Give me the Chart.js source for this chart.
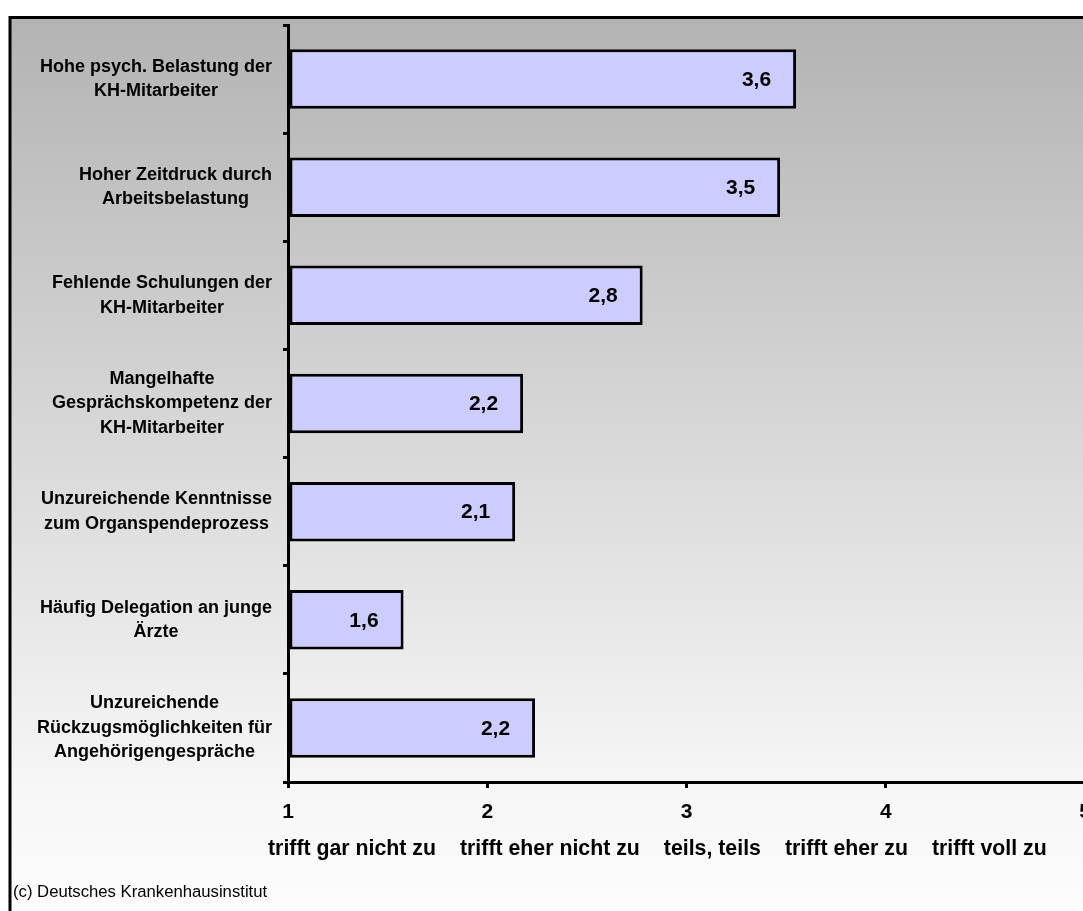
<!DOCTYPE html>
<html><head><meta charset="utf-8">
<script src="https://cdn.jsdelivr.net/npm/chart.js@4.4.1/dist/chart.umd.min.js"></script>
<style>
html,body{margin:0;padding:0;background:#fff;overflow:hidden;}
#wrap{width:1083px;height:911px;overflow:hidden;position:relative;}
canvas{display:block;}
</style></head><body>
<div id="wrap"><canvas id="c" width="1100" height="930" style="width:1100px;height:930px"></canvas></div>
<script>
const categories = [
  ['Hohe psych. Belastung der', 'KH-Mitarbeiter'],
  ['Hoher Zeitdruck durch', 'Arbeitsbelastung'],
  ['Fehlende Schulungen der', 'KH-Mitarbeiter'],
  ['Mangelhafte', 'Gesprächskompetenz der', 'KH-Mitarbeiter'],
  ['Unzureichende Kenntnisse', 'zum Organspendeprozess'],
  ['Häufig Delegation an junge', 'Ärzte'],
  ['Unzureichende', 'Rückzugsmöglichkeiten für', 'Angehörigengespräche']
];
const values = [3.55, 3.47, 2.78, 2.18, 2.14, 1.58, 2.24];
const valueLabels = ['3,6', '3,5', '2,8', '2,2', '2,1', '1,6', '2,2'];
const xMin = 1;
const xMax = 5;
const scaleTexts = ['trifft gar nicht zu', 'trifft eher nicht zu', 'teils, teils', 'trifft eher zu', 'trifft voll zu'];
const sourceText = '(c) Deutsches Krankenhausinstitut';

const FONT = '"Liberation Sans", Arial, Helvetica, sans-serif';

const backgroundPlugin = {
  id: 'bg',
  beforeDraw(chart) {
    const ctx = chart.ctx;
    ctx.save();
    ctx.fillStyle = '#ffffff';
    ctx.fillRect(0, 0, chart.width, chart.height);
    const g = ctx.createLinearGradient(0, 17, 0, 911);
    g.addColorStop(0, '#b3b3b3');
    g.addColorStop(0.87, '#f7f7f7');
    g.addColorStop(1, '#fcfcfc');
    ctx.fillStyle = g;
    ctx.fillRect(10, 17, chart.width, chart.height);
    ctx.strokeStyle = '#000';
    ctx.lineWidth = 3;
    ctx.beginPath();
    ctx.moveTo(10, chart.height + 5);
    ctx.lineTo(10, 17.5);
    ctx.lineTo(chart.width + 5, 17.5);
    ctx.stroke();
    ctx.restore();
  }
};

const textPlugin = {
  id: 'texts',
  afterDatasetsDraw(chart) {
    const ctx = chart.ctx;
    const meta = chart.getDatasetMeta(0);
    ctx.save();
    ctx.fillStyle = '#000';
    ctx.font = 'bold 21px ' + FONT;
    ctx.textAlign = 'right';
    ctx.textBaseline = 'middle';
    meta.data.forEach((el, i) => {
      ctx.fillText(valueLabels[i], el.x - 25, el.y + 1);
    });
    ctx.restore();
  },
  afterDraw(chart) {
    const ctx = chart.ctx;
    const ys = chart.scales.y;
    const area = chart.chartArea;
    ctx.save();
    ctx.fillStyle = '#000';
    // category labels: block right-aligned, lines centered within block
    ctx.font = 'bold 18px ' + FONT;
    ctx.textAlign = 'center';
    ctx.textBaseline = 'middle';
    const lh = 24.5;
    categories.forEach((lines, i) => {
      const y = ys.getPixelForValue(i);
      let w = 0;
      lines.forEach(l => { w = Math.max(w, ctx.measureText(l).width); });
      const cx = area.left - 16 - w / 2;
      lines.forEach((l, j) => {
        ctx.fillText(l, cx, y + (j - (lines.length - 1) / 2) * lh);
      });
    });
    // scale description row
    ctx.font = 'bold 21.3px ' + FONT;
    ctx.textAlign = 'left';
    ctx.textBaseline = 'alphabetic';
    let x = area.left - 20;
    scaleTexts.forEach(t => {
      ctx.fillText(t, x, area.bottom + 73);
      x += ctx.measureText(t).width + 24;
    });
    // source
    ctx.font = '16.7px ' + FONT;
    ctx.fillText(sourceText, 13, 897);
    ctx.restore();
  }
};

function resetPadding(s) {
  s.paddingLeft = 0; s.paddingRight = 0; s.paddingTop = 0; s.paddingBottom = 0;
}

new Chart(document.getElementById('c'), {
  type: 'bar',
  data: {
    labels: categories,
    datasets: [{
      data: values,
      backgroundColor: '#ccccff',
      borderColor: '#000000',
      borderWidth: 3,
      borderSkipped: false,
      base: xMin,
      barPercentage: 0.55,
      categoryPercentage: 1
    }]
  },
  options: {
    indexAxis: 'y',
    responsive: false,
    animation: false,
    devicePixelRatio: 1,
    layout: { padding: { left: 0, top: 25, right: 15, bottom: 108 } },
    plugins: { legend: { display: false }, tooltip: { enabled: false } },
    scales: {
      x: {
        type: 'linear',
        min: xMin,
        max: xMax,
        ticks: { stepSize: 1, color: '#000', padding: 12, font: { family: FONT, size: 21, weight: 'bold' } },
        grid: { drawOnChartArea: false, color: '#000', lineWidth: 3, tickLength: 6 },
        border: { color: '#000', width: 3 },
        afterFit(s) { s.height = 40; resetPadding(s); }
      },
      y: {
        type: 'category',
        offset: true,
        ticks: { display: false },
        grid: { offset: true, drawOnChartArea: false, color: '#000', lineWidth: 3, tickLength: 5 },
        border: { color: '#000', width: 3 },
        afterFit(s) { s.width = 288; resetPadding(s); }
      }
    }
  },
  plugins: [backgroundPlugin, textPlugin]
});
</script>
</body></html>
